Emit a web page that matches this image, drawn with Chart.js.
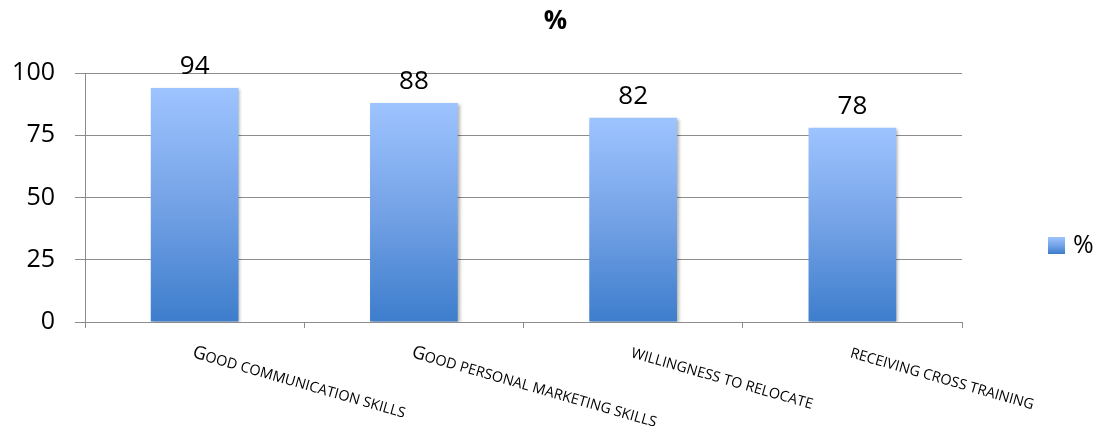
<!DOCTYPE html>
<html>
<head>
<meta charset="utf-8">
<script src="https://cdn.jsdelivr.net/npm/chart.js@4"></script>
<style>
  html, body { margin: 0; padding: 0; background: #fff; }
  #wrap { width: 1101px; height: 429px; }
</style>
</head>
<body>
<div id="wrap"><canvas id="canvas"></canvas></div>
<script>
  // chart data
  const categories = ['Good communication skills', 'Good personal marketing skills', 'willingness to relocate', 'receiving cross training'];
  const percentValues = [94, 88, 82, 78];
  const yTicks = [0, 25, 50, 75, 100];
  const seriesName = '%';

  const FONT = "'Open Sans', 'DejaVu Sans', sans-serif";
  const GRID = '#8c8c8c';

  function barGradient(ctx, top, bottom) {
    const g = ctx.createLinearGradient(0, top, 0, bottom);
    g.addColorStop(0, '#9ec4ff');
    g.addColorStop(0.5, '#74a2e6');
    g.addColorStop(1, '#3d7dcc');
    return g;
  }

  // small caps like the original labels
  function drawSmallCaps(ctx, text, x, y, big, small) {
    let cx = x;
    for (const ch of text) {
      const isUpper = ch !== ch.toLowerCase() && ch === ch.toUpperCase();
      ctx.font = (isUpper ? big : small) + 'px ' + FONT;
      const c = ch.toUpperCase();
      ctx.fillText(c, cx, y);
      cx += ctx.measureText(c).width;
    }
  }

  const barShadow = {
    id: 'barShadow',
    beforeDatasetDraw(chart) {
      const ctx = chart.ctx;
      ctx.save();
      ctx.shadowColor = 'rgba(0,0,0,0.3)';
      ctx.shadowOffsetX = 2;
      ctx.shadowOffsetY = 1;
      ctx.shadowBlur = 3;
    },
    afterDatasetDraw(chart) {
      chart.ctx.restore();
    }
  };

  const extras = {
    id: 'extras',
    afterDatasetsDraw(chart) {
      const ctx = chart.ctx;
      const meta = chart.getDatasetMeta(0);
      ctx.save();
      ctx.fillStyle = '#000';
      ctx.textAlign = 'center';
      ctx.textBaseline = 'alphabetic';
      ctx.font = '26px ' + FONT;
      meta.data.forEach(function (bar, i) {
        ctx.fillText(String(percentValues[i]), bar.x, bar.y - 14);
      });
      ctx.restore();
    },
    afterDraw(chart) {
      const ctx = chart.ctx;
      const xs = chart.scales.x;
      const area = chart.chartArea;
      // title, centred on the whole canvas
      ctx.save();
      ctx.fillStyle = '#000';
      ctx.font = 'bold 26px ' + FONT;
      ctx.textAlign = 'center';
      ctx.textBaseline = 'middle';
      ctx.fillText(seriesName, chart.width / 2 + 5, 22);
      ctx.restore();
      // rotated category labels
      ctx.save();
      ctx.fillStyle = '#000';
      ctx.textAlign = 'left';
      ctx.textBaseline = 'alphabetic';
      categories.forEach(function (label, i) {
        const px = xs.getPixelForValue(i) - 3;
        ctx.save();
        ctx.translate(px, area.bottom + 35);
        ctx.rotate(16 * Math.PI / 180);
        drawSmallCaps(ctx, label, 0, 0, 18.2, 14.4);
        ctx.restore();
      });
      ctx.restore();
      // legend
      const lx = area.right + 86;
      const ly = 237;
      ctx.save();
      ctx.fillStyle = barGradient(ctx, ly, ly + 17);
      ctx.fillRect(lx, ly, 17, 17);
      ctx.fillStyle = '#000';
      ctx.font = '25px ' + FONT;
      ctx.textBaseline = 'middle';
      ctx.textAlign = 'left';
      ctx.fillText(seriesName, lx + 25, ly + 9);
      ctx.restore();
    }
  };

  const canvas = document.getElementById('canvas');
  const chart = new Chart(canvas, {
    type: 'bar',
    data: {
      labels: categories,
      datasets: [{
        label: seriesName,
        data: percentValues,
        barPercentage: 0.4,
        categoryPercentage: 1,
        borderWidth: 0,
        backgroundColor: function (c) {
          const ch = c.chart;
          if (!ch.chartArea) return '#7aa8ec';
          const y = ch.scales.y;
          return barGradient(ch.ctx, y.getPixelForValue(c.raw), y.getPixelForValue(0));
        }
      }]
    },
    options: {
      responsive: true,
      maintainAspectRatio: false,
      animation: false,
      layout: { padding: { left: 0, right: 139, top: 73, bottom: 0 } },
      plugins: {
        legend: { display: false },
        tooltip: { enabled: false },
        title: { display: false }
      },
      scales: {
        x: {
          offset: true,
          grid: { display: true, drawOnChartArea: false, drawTicks: true, tickLength: 6, color: GRID, offset: true },
          border: { display: true, color: GRID },
          ticks: { display: false },
          afterFit: function (s) { s.height = 107; }
        },
        y: {
          min: 0,
          max: 100,
          afterBuildTicks: function (s) { s.ticks = yTicks.map(function (v) { return { value: v }; }); },
          grid: { color: GRID, tickLength: 10, drawTicks: true },
          border: { display: true, color: GRID },
          ticks: { color: '#000', padding: 20, font: { family: FONT, size: 25 } },
          afterFit: function (s) { s.width = 85; }
        }
      }
    },
    plugins: [barShadow, extras]
  });
</script>
</body>
</html>
